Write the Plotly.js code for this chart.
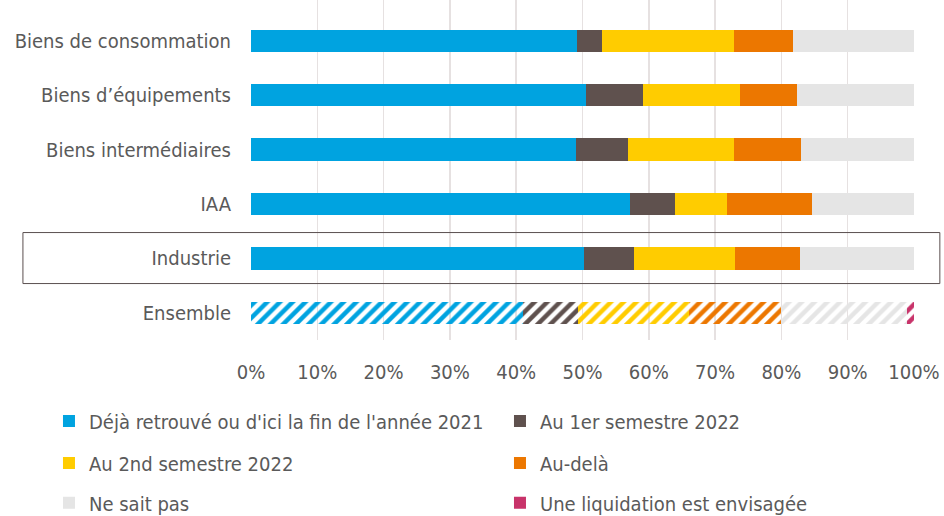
<!DOCTYPE html>
<html><head><meta charset="utf-8">
<script src="https://cdn.plot.ly/plotly-3.0.1.min.js"></script>
<style>html,body{margin:0;padding:0;background:#fff;}#chart{width:944px;height:516px;}</style>
</head><body><div id="chart"></div>
<script>
var categories = ["Biens de consommation", "Biens d\u2019équipements", "Biens intermédiaires", "IAA", "Industrie", "Ensemble"];
var seriesNames = ["Déjà retrouvé ou d'ici la fin de l'année 2021", "Au 1er semestre 2022", "Au 2nd semestre 2022", "Au-delà", "Ne sait pas", "Une liquidation est envisagée"];
var dejaRetrouve = [49.1, 50.5, 49.0, 57.1, 50.3, 41.1];
var semestre1 = [3.9, 8.6, 7.8, 6.8, 7.5, 8.2];
var semestre2 = [19.9, 14.7, 16.1, 7.9, 15.2, 16.7];
var auDela = [8.9, 8.6, 10.1, 12.8, 9.8, 14.0];
var neSaitPas = [18.2, 17.6, 17.0, 15.4, 17.2, 19.0];
var liquidation = [0, 0, 0, 0, 0, 1.0];
var xTicks = [0, 10, 20, 30, 40, 50, 60, 70, 80, 90, 100];
var xTickLabels = ["0%", "10%", "20%", "30%", "40%", "50%", "60%", "70%", "80%", "90%", "100%"];

var values = [dejaRetrouve, semestre1, semestre2, auDela, neSaitPas, liquidation];
var colors = ["#00A3E0", "#5F514E", "#FFCC00", "#EC7700", "#E5E5E5", "#C8336A"];
var legendIds = ["legend", "legend", "legend2", "legend2", "legend3", "legend3"];
var FONT = "'Liberation Sans Narrow', 'DejaVu Sans Condensed', Roboto, sans-serif";
var TXT = "#5a5a5a";

var shapes = categories.map(function (c) { return c === "Ensemble" ? "/" : ""; });
var traces = values.map(function (v, i) {
  return {
    type: "bar", orientation: "h", name: seriesNames[i],
    y: categories, x: v, width: 0.41,
    marker: { color: colors[i], line: { width: 0 },
      pattern: { shape: shapes, size: 9, solidity: 0.5, fillmode: "replace" } },
    legend: legendIds[i], hoverinfo: "name+x"
  };
});

function legendRow(yp) {
  return { orientation: "h", xref: "paper", yref: "paper",
    x: -0.3047, xanchor: "left", y: yp, yanchor: "middle",
    entrywidth: 406, entrywidthmode: "pixels", bgcolor: "rgba(0,0,0,0)",
    font: { family: FONT, size: 20, color: TXT }, itemwidth: 30, traceorder: "normal" };
}

var layout = {
  width: 944, height: 516,
  margin: { l: 251, r: 30, t: 0, b: 176, autoexpand: false },
  paper_bgcolor: "#fff", plot_bgcolor: "#fff",
  barmode: "stack",
  font: { family: FONT, size: 20, color: TXT },
  xaxis: { range: [0, 100], tickvals: xTicks, ticktext: xTickLabels, showgrid: true,
    gridcolor: "#e6e1e1", gridwidth: 1.5, zeroline: false, showline: false,
    ticks: "", ticklabelstandoff: 18, fixedrange: true,
    tickfont: { family: FONT, size: 20, color: TXT } },
  yaxis: { type: "category", categoryorder: "array", categoryarray: categories,
    range: [5.5, -0.75], showgrid: false, zeroline: false, showline: false,
    ticks: "", ticklabelstandoff: 19, fixedrange: true,
    tickfont: { family: FONT, size: 20, color: TXT } },
  legend: legendRow(-0.238),
  legend2: legendRow(-0.3618),
  legend3: legendRow(-0.479),
  shapes: [{ type: "rect", xref: "paper", yref: "paper",
    x0: -0.344, x1: 1.039, y0: 0.166, y1: 0.316,
    line: { color: "#5a4f4f", width: 1 }, fillcolor: "rgba(0,0,0,0)" }]
};

Plotly.newPlot("chart", traces, layout, { displayModeBar: false, staticPlot: true });
</script></body></html>
